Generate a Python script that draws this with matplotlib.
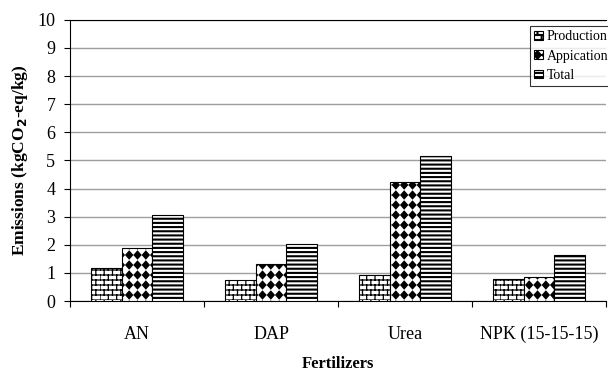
import warnings
import numpy as np
import matplotlib
matplotlib.use('Agg')
import matplotlib.pyplot as plt
import matplotlib.hatch as mhatch
from matplotlib.path import Path
from matplotlib.patches import Patch

warnings.filterwarnings('ignore')

#------------------------------------------------------------------------------
# data
fertilizers = ['AN', 'DAP', 'Urea', 'NPK (15-15-15)']
production = [1.18, 0.74, 0.93, 0.77]
application = [1.90, 1.32, 4.22, 0.85]
total = [3.07, 2.02, 5.15, 1.64]
series_names = ['Production', 'Appication', 'Total']


#------------------------------------------------------------------------------
# extra hatch patterns: 'b' = bricks, 'd' = black diamonds
class BrickHatch(mhatch.HatchPatternBase):
    def __init__(self, hatch, density):
        self.rows = 20 if 'b' in hatch else 0
        self.cols = 12
        self.num_vertices = 2 * self.rows + 2 * self.rows * self.cols

    def set_vertices_and_codes(self, vertices, codes):
        k = 0
        for i in range(self.rows):
            y0 = i / self.rows
            y1 = (i + 1) / self.rows
            vertices[k] = [0, y0]
            vertices[k + 1] = [1, y0]
            codes[k] = Path.MOVETO
            codes[k + 1] = Path.LINETO
            k += 2
            shift = 0.5 / self.cols if i % 2 else 0.0
            for j in range(self.cols):
                x = j / self.cols + shift
                vertices[k] = [x, y0]
                vertices[k + 1] = [x, y1]
                codes[k] = Path.MOVETO
                codes[k + 1] = Path.LINETO
                k += 2


class DiamondHatch(mhatch.HatchPatternBase):
    def __init__(self, hatch, density):
        self.nx = 12 if 'd' in hatch else 0
        self.ny = 10
        self.num_vertices = 5 * self.nx * self.ny

    def set_vertices_and_codes(self, vertices, codes):
        hx = 0.033
        hy = 0.037
        k = 0
        for i in range(self.ny):
            for j in range(self.nx):
                cx = (j + 0.5) / self.nx
                cy = (i + 0.5) / self.ny
                vertices[k:k + 5] = [[cx - hx, cy], [cx, cy + hy], [cx + hx, cy],
                                     [cx, cy - hy], [cx - hx, cy]]
                codes[k:k + 5] = [Path.MOVETO, Path.LINETO, Path.LINETO,
                                  Path.LINETO, Path.CLOSEPOLY]
                k += 5


mhatch._hatch_types.append(BrickHatch)
mhatch._hatch_types.append(DiamondHatch)

plt.rcParams['font.family'] = ['Liberation Serif', 'DejaVu Serif']
plt.rcParams['hatch.color'] = 'black'

fig = plt.figure(figsize=(6.08, 3.74), dpi=100)
ax = fig.add_axes([0.115, 0.195, 0.882, 0.752])

x = np.arange(len(fertilizers))
w = 0.227
hatches = ['b', 'd', '----']
hatch_lw = [0.9, 1.0, 1.5]
data = [production, application, total]

handles = []
for k in range(3):
    plt.rcParams['hatch.linewidth'] = hatch_lw[k]
    ax.bar(x + (k - 1) * w, data[k], w, color='white', edgecolor='black',
           linewidth=0.8, hatch=hatches[k], zorder=3)
    handles.append(Patch(facecolor='white', edgecolor='black', linewidth=0.8,
                         hatch=hatches[k]))

ax.set_xlim(-0.5, len(fertilizers) - 0.5)
ax.set_ylim(0, 10)
ax.set_yticks(range(0, 11))
ax.yaxis.grid(True, color='0.62', linewidth=1.0, zorder=0)
ax.set_axisbelow(True)

ax.set_xticks(x)
ax.set_xticklabels(fertilizers, fontsize=13)
ax.set_xticks(np.arange(-0.5, len(fertilizers)), minor=True)
ax.tick_params(axis='x', which='major', length=0, pad=18)
ax.tick_params(axis='x', which='minor', length=4.5, width=0.8, direction='out')
ax.tick_params(axis='y', length=4.5, width=0.8, labelsize=13, pad=6)

ax.spines['right'].set_visible(False)
ax.spines['top'].set_linewidth(0.8)
ax.spines['left'].set_linewidth(0.8)
ax.spines['bottom'].set_linewidth(0.8)

ax.set_ylabel('Emissions (kgCO$_\\mathbf{2}$-eq/kg)', fontsize=12.5,
              fontweight='bold', labelpad=5)
ax.set_xlabel('Fertilizers', fontsize=12, fontweight='bold', labelpad=9)

leg = ax.legend(handles, series_names, loc='upper right',
                bbox_to_anchor=(1.012, 0.977), fontsize=10, frameon=True,
                fancybox=False, handlelength=0.6, handleheight=0.6,
                handletextpad=0.3, borderpad=0.3, labelspacing=0.45,
                borderaxespad=0)
leg.get_frame().set_edgecolor('black')
leg.get_frame().set_linewidth(0.8)

plt.savefig('out.png', dpi=100)
